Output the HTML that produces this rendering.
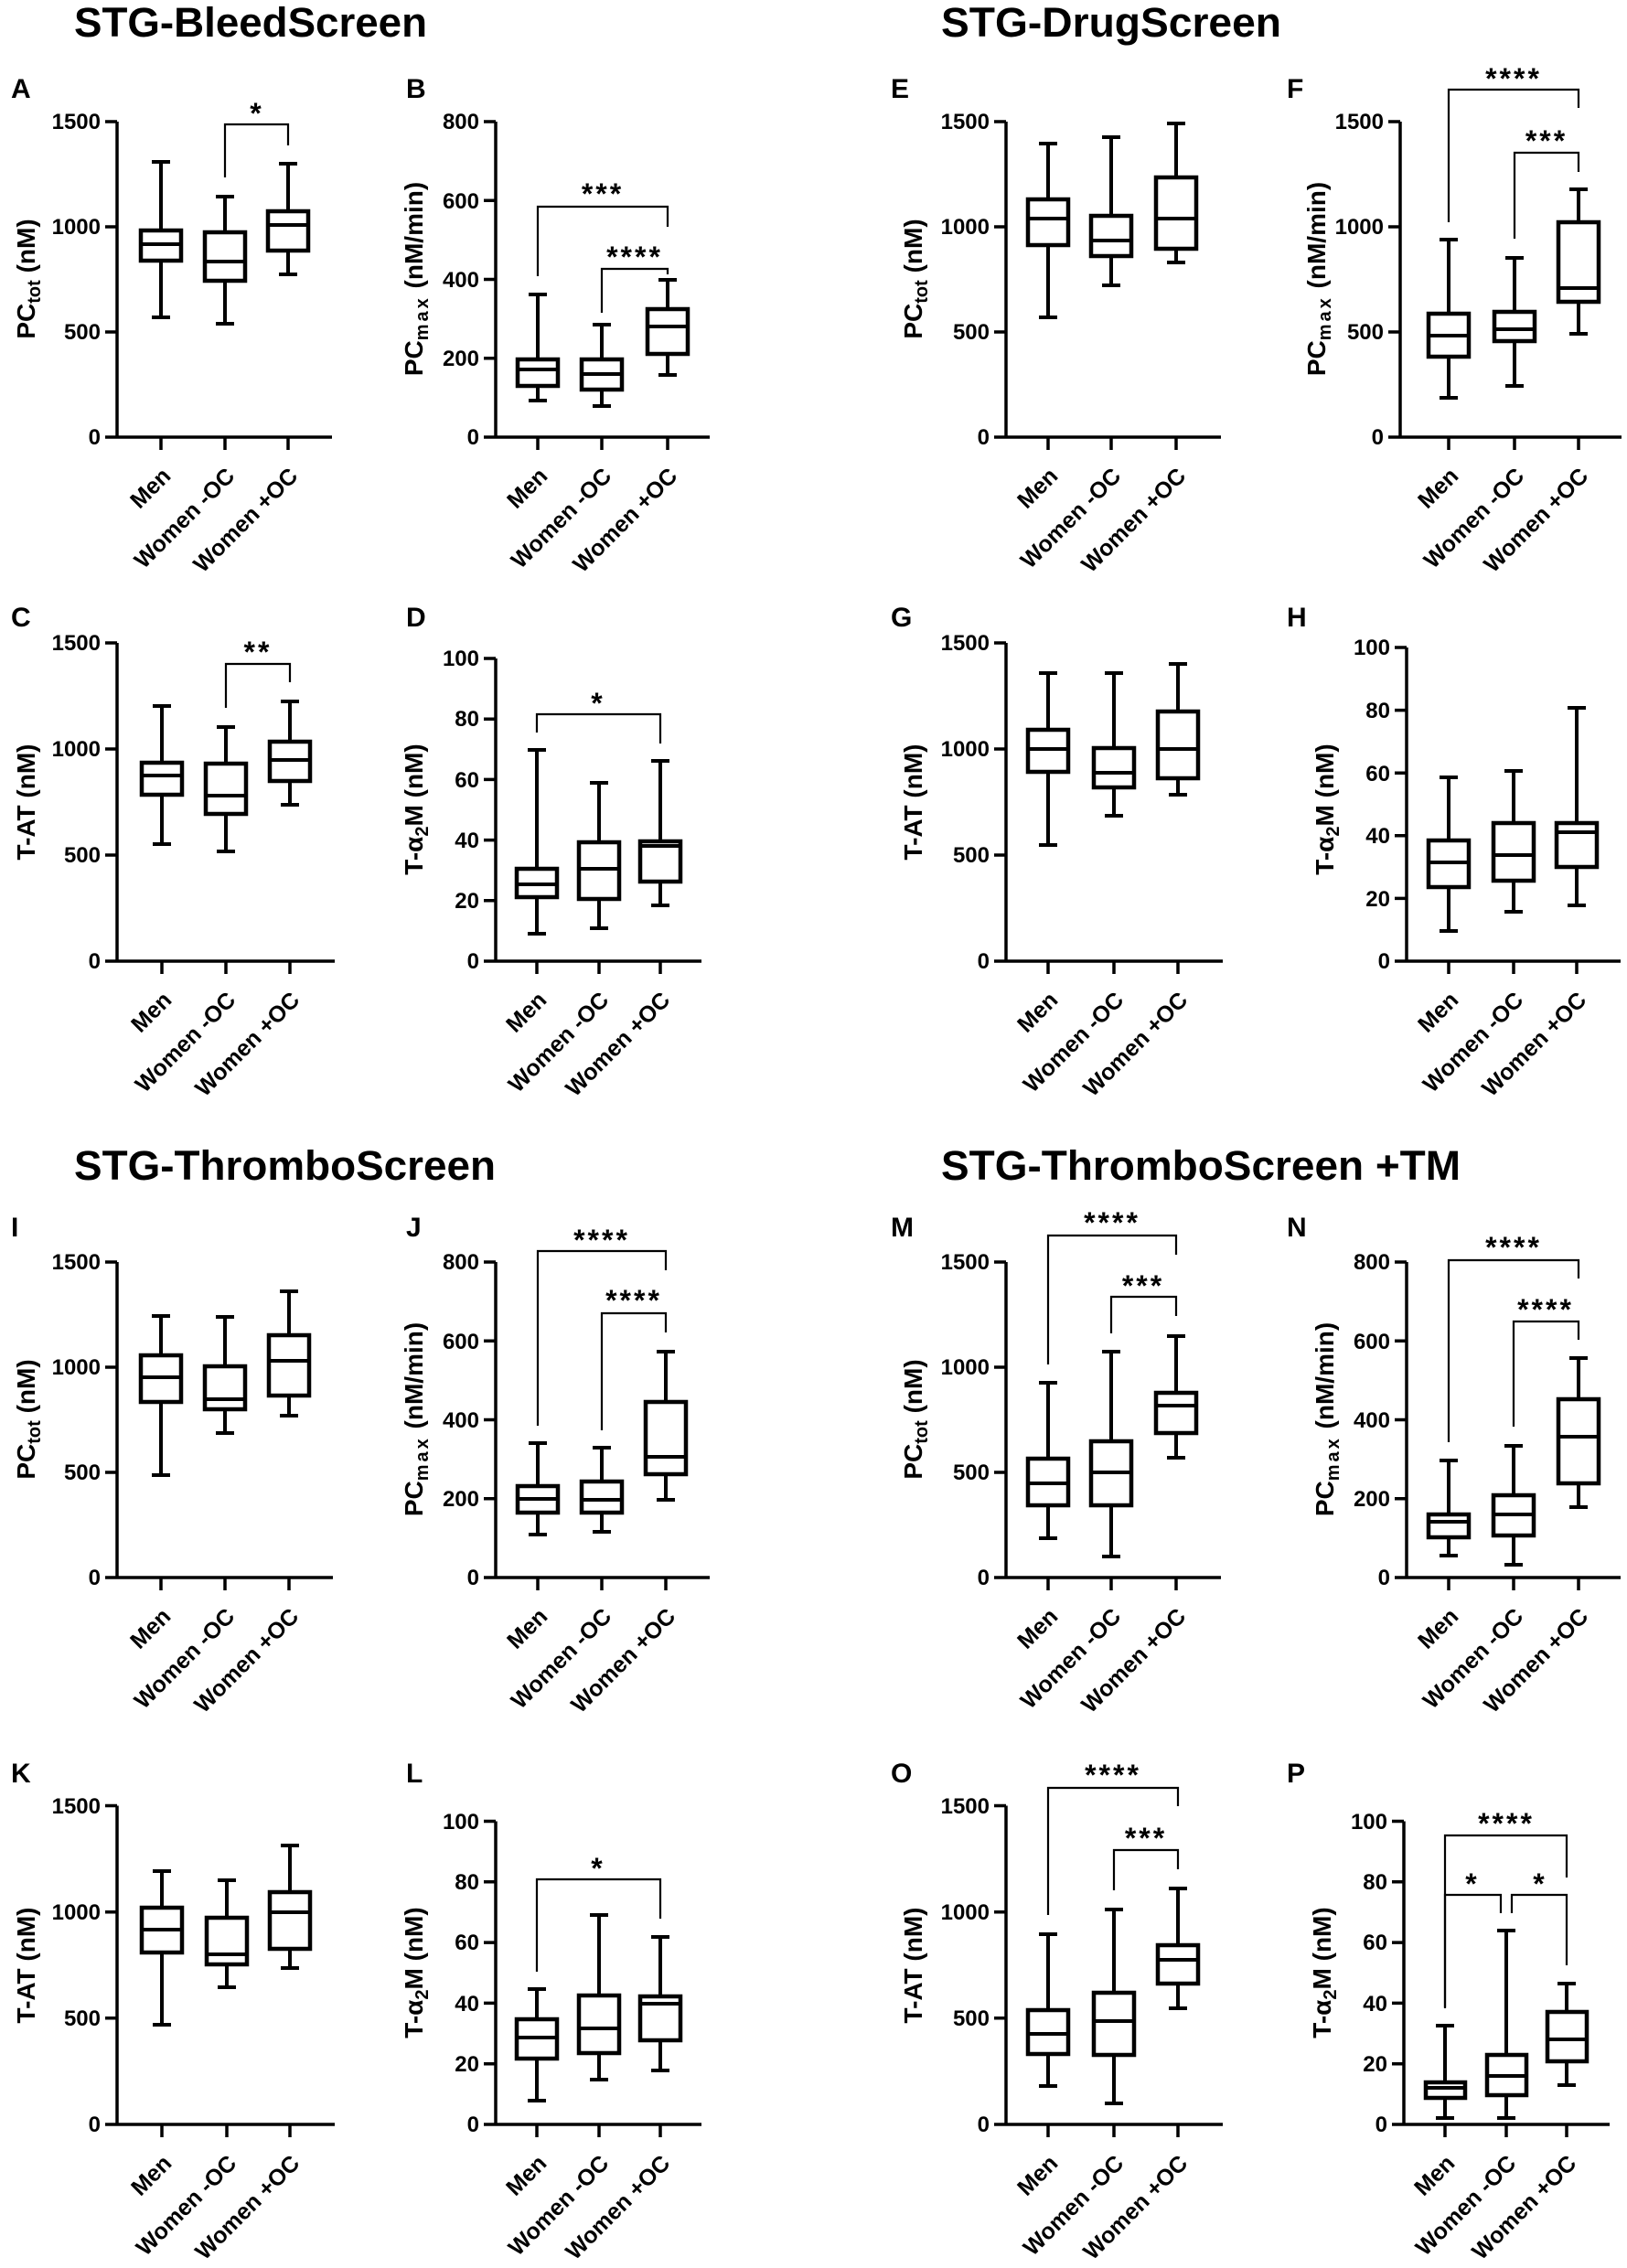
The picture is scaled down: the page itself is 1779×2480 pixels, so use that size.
<!DOCTYPE html>
<html><head><meta charset="utf-8"><style>
html,body{margin:0;padding:0;background:#fff}
svg{display:block}
text{font-family:"Liberation Sans",Arial,sans-serif;font-weight:bold;fill:#000}
.t{font-size:45px}
.L{font-size:30px}
.k{font-size:24px;text-anchor:end}
.c{font-size:25px;text-anchor:end}
.yl{font-size:28px;text-anchor:middle}
.s{font-size:32px;text-anchor:middle;letter-spacing:3px}
.ax{stroke:#000;stroke-width:3.5;fill:none}
.w{stroke:#000;stroke-width:4;fill:none}
.b{stroke:#000;stroke-width:4.5;fill:#fff}
.br{stroke:#000;stroke-width:2.2;fill:none}
</style></head><body>
<svg width="1779" height="2480" viewBox="0 0 1779 2480" xmlns="http://www.w3.org/2000/svg">
<rect width="1779" height="2480" fill="#fff"/>
<!-- Titles -->
<text class="t" x="81" y="40" textLength="386" lengthAdjust="spacingAndGlyphs">STG-BleedScreen</text>
<text class="t" x="1029" y="40" textLength="372" lengthAdjust="spacingAndGlyphs">STG-DrugScreen</text>
<text class="t" x="81" y="1290" textLength="461" lengthAdjust="spacingAndGlyphs">STG-ThromboScreen</text>
<text class="t" x="1029" y="1290" textLength="568" lengthAdjust="spacingAndGlyphs">STG-ThromboScreen +TM</text>
<!-- Letters -->
<text class="L" x="12" y="107">A</text><text class="L" x="444" y="107">B</text>
<text class="L" x="974" y="107">E</text><text class="L" x="1407" y="107">F</text>
<text class="L" x="12" y="685">C</text><text class="L" x="444" y="685">D</text>
<text class="L" x="974" y="685">G</text><text class="L" x="1407" y="685">H</text>
<text class="L" x="12" y="1352">I</text><text class="L" x="444" y="1352">J</text>
<text class="L" x="974" y="1352">M</text><text class="L" x="1407" y="1352">N</text>
<text class="L" x="12" y="1949">K</text><text class="L" x="444" y="1949">L</text>
<text class="L" x="974" y="1949">O</text><text class="L" x="1407" y="1949">P</text>

<!-- ============ A ============ -->
<path class="ax" d="M128 133V478H363M115 478h13M115 363h13M115 248h13M115 133h13M176 478v14M246 478v14M315 478v14"/>
<text class="k" x="110" y="486">0</text><text class="k" x="110" y="371">500</text><text class="k" x="110" y="256">1000</text><text class="k" x="110" y="141">1500</text>
<text class="yl" transform="translate(38,305) rotate(-90)">PC<tspan font-size="20" dy="6">tot</tspan><tspan dy="-6"> (nM)</tspan></text>
<path class="w" d="M176 177V347M166 177h20M166 347h20"/><rect class="b" x="154" y="252" width="44" height="33"/><path class="w" d="M154 267h44"/>
<path class="w" d="M246 215V354M236 215h20M236 354h20"/><rect class="b" x="224" y="254" width="44" height="53"/><path class="w" d="M224 286h44"/>
<path class="w" d="M315 179V300M305 179h20M305 300h20"/><rect class="b" x="293" y="231" width="44" height="43"/><path class="w" d="M293 246h44"/>
<path class="br" d="M246 194V136H315V159"/><text class="s" x="281" y="135">*</text>
<text class="c" transform="translate(188,522) rotate(-45)">Men</text><text class="c" transform="translate(258,522) rotate(-45)">Women -OC</text><text class="c" transform="translate(327,522) rotate(-45)">Women +OC</text>

<!-- ============ B ============ -->
<path class="ax" d="M542 133V478H776M529 478h13M529 391.75h13M529 305.5h13M529 219.25h13M529 133h13M588 478v14M658 478v14M730 478v14"/>
<text class="k" x="524" y="486">0</text><text class="k" x="524" y="400">200</text><text class="k" x="524" y="314">400</text><text class="k" x="524" y="228">600</text><text class="k" x="524" y="141">800</text>
<text class="yl" transform="translate(462,305) rotate(-90)">PC<tspan font-size="20" dy="6" letter-spacing="3">max</tspan><tspan dy="-6"> (nM/min)</tspan></text>
<path class="w" d="M588 322V438M578 322h20M578 438h20"/><rect class="b" x="566" y="393" width="44" height="29"/><path class="w" d="M566 404h44"/>
<path class="w" d="M658 355V444M648 355h20M648 444h20"/><rect class="b" x="636" y="393" width="44" height="33"/><path class="w" d="M636 409h44"/>
<path class="w" d="M730 306V410M720 306h20M720 410h20"/><rect class="b" x="708" y="338" width="44" height="49"/><path class="w" d="M708 357h44"/>
<path class="br" d="M588 302V226H730V248"/><text class="s" x="659" y="223">***</text>
<path class="br" d="M658 342V294H730V300"/><text class="s" x="694" y="292">****</text>
<text class="c" transform="translate(600,522) rotate(-45)">Men</text><text class="c" transform="translate(670,522) rotate(-45)">Women -OC</text><text class="c" transform="translate(742,522) rotate(-45)">Women +OC</text>

<!-- ============ E ============ -->
<path class="ax" d="M1100 133V478H1335M1087 478h13M1087 363h13M1087 248h13M1087 133h13M1146 478v14M1215 478v14M1286 478v14"/>
<text class="k" x="1082" y="486">0</text><text class="k" x="1082" y="371">500</text><text class="k" x="1082" y="256">1000</text><text class="k" x="1082" y="141">1500</text>
<text class="yl" transform="translate(1008,305) rotate(-90)">PC<tspan font-size="20" dy="6">tot</tspan><tspan dy="-6"> (nM)</tspan></text>
<path class="w" d="M1146 157V347M1136 157h20M1136 347h20"/><rect class="b" x="1124" y="218" width="44" height="50"/><path class="w" d="M1124 239h44"/>
<path class="w" d="M1215 150V312M1205 150h20M1205 312h20"/><rect class="b" x="1193" y="236" width="44" height="44"/><path class="w" d="M1193 263h44"/>
<path class="w" d="M1286 135V287M1276 135h20M1276 287h20"/><rect class="b" x="1264" y="194" width="44" height="78"/><path class="w" d="M1264 239h44"/>
<text class="c" transform="translate(1158,522) rotate(-45)">Men</text><text class="c" transform="translate(1227,522) rotate(-45)">Women -OC</text><text class="c" transform="translate(1298,522) rotate(-45)">Women +OC</text>

<!-- ============ F ============ -->
<path class="ax" d="M1531 133V478H1773M1518 478h13M1518 363h13M1518 248h13M1518 133h13M1584 478v14M1656 478v14M1726 478v14"/>
<text class="k" x="1513" y="486">0</text><text class="k" x="1513" y="371">500</text><text class="k" x="1513" y="256">1000</text><text class="k" x="1513" y="141">1500</text>
<text class="yl" transform="translate(1449,305) rotate(-90)">PC<tspan font-size="20" dy="6" letter-spacing="3">max</tspan><tspan dy="-6"> (nM/min)</tspan></text>
<path class="w" d="M1584 262V435M1574 262h20M1574 435h20"/><rect class="b" x="1562" y="343" width="44" height="47"/><path class="w" d="M1562 367h44"/>
<path class="w" d="M1656 282V422M1646 282h20M1646 422h20"/><rect class="b" x="1634" y="341" width="44" height="32"/><path class="w" d="M1634 360h44"/>
<path class="w" d="M1726 207V365M1716 207h20M1716 365h20"/><rect class="b" x="1704" y="243" width="44" height="87"/><path class="w" d="M1704 315h44"/>
<path class="br" d="M1584 243V98H1726V118"/><text class="s" x="1655" y="97">****</text>
<path class="br" d="M1656 261V167H1726V188"/><text class="s" x="1691" y="165">***</text>
<text class="c" transform="translate(1596,522) rotate(-45)">Men</text><text class="c" transform="translate(1668,522) rotate(-45)">Women -OC</text><text class="c" transform="translate(1738,522) rotate(-45)">Women +OC</text>

<!-- ============ C ============ -->
<path class="ax" d="M128 703V1051H366M115 1051h13M115 935h13M115 819h13M115 703h13M177 1051v14M247 1051v14M317 1051v14"/>
<text class="k" x="110" y="1059">0</text><text class="k" x="110" y="943">500</text><text class="k" x="110" y="827">1000</text><text class="k" x="110" y="711">1500</text>
<text class="yl" transform="translate(38,877) rotate(-90)">T-AT (nM)</text>
<path class="w" d="M177 772V923M167 772h20M167 923h20"/><rect class="b" x="155" y="834" width="44" height="35"/><path class="w" d="M155 848h44"/>
<path class="w" d="M247 795V931M237 795h20M237 931h20"/><rect class="b" x="225" y="835" width="44" height="55"/><path class="w" d="M225 870h44"/>
<path class="w" d="M317 767V880M307 767h20M307 880h20"/><rect class="b" x="295" y="811" width="44" height="43"/><path class="w" d="M295 831h44"/>
<path class="br" d="M247 774V726H317V746"/><text class="s" x="282" y="724">**</text>
<text class="c" transform="translate(189,1095) rotate(-45)">Men</text><text class="c" transform="translate(259,1095) rotate(-45)">Women -OC</text><text class="c" transform="translate(329,1095) rotate(-45)">Women +OC</text>

<!-- ============ D ============ -->
<path class="ax" d="M542 720V1051H767M529 1051h13M529 984.8h13M529 918.6h13M529 852.4h13M529 786.2h13M529 720h13M587 1051v14M655 1051v14M722 1051v14"/>
<text class="k" x="524" y="1059">0</text><text class="k" x="524" y="993">20</text><text class="k" x="524" y="927">40</text><text class="k" x="524" y="861">60</text><text class="k" x="524" y="794">80</text><text class="k" x="524" y="728">100</text>
<text class="yl" transform="translate(462,885) rotate(-90)">T-α<tspan font-size="20" dy="6">2</tspan><tspan dy="-6">M (nM)</tspan></text>
<path class="w" d="M587 820V1021M577 820h20M577 1021h20"/><rect class="b" x="565" y="950" width="44" height="31"/><path class="w" d="M565 967h44"/>
<path class="w" d="M655 856V1015M645 856h20M645 1015h20"/><rect class="b" x="633" y="921" width="44" height="62"/><path class="w" d="M633 950h44"/>
<path class="w" d="M722 832V990M712 832h20M712 990h20"/><rect class="b" x="700" y="920" width="44" height="44"/><path class="w" d="M700 925h44"/>
<path class="br" d="M587 801V781H722V813"/><text class="s" x="654" y="780">*</text>
<text class="c" transform="translate(599,1095) rotate(-45)">Men</text><text class="c" transform="translate(667,1095) rotate(-45)">Women -OC</text><text class="c" transform="translate(734,1095) rotate(-45)">Women +OC</text>

<!-- ============ G ============ -->
<path class="ax" d="M1100 703V1051H1337M1087 1051h13M1087 935h13M1087 819h13M1087 703h13M1146 1051v14M1218 1051v14M1288 1051v14"/>
<text class="k" x="1082" y="1059">0</text><text class="k" x="1082" y="943">500</text><text class="k" x="1082" y="827">1000</text><text class="k" x="1082" y="711">1500</text>
<text class="yl" transform="translate(1008,877) rotate(-90)">T-AT (nM)</text>
<path class="w" d="M1146 736V924M1136 736h20M1136 924h20"/><rect class="b" x="1124" y="798" width="44" height="46"/><path class="w" d="M1124 819h44"/>
<path class="w" d="M1218 736V892M1208 736h20M1208 892h20"/><rect class="b" x="1196" y="818" width="44" height="43"/><path class="w" d="M1196 845h44"/>
<path class="w" d="M1288 726V869M1278 726h20M1278 869h20"/><rect class="b" x="1266" y="778" width="44" height="73"/><path class="w" d="M1266 819h44"/>
<text class="c" transform="translate(1158,1095) rotate(-45)">Men</text><text class="c" transform="translate(1230,1095) rotate(-45)">Women -OC</text><text class="c" transform="translate(1300,1095) rotate(-45)">Women +OC</text>

<!-- ============ H ============ -->
<path class="ax" d="M1538 708V1051H1772M1525 1051h13M1525 982.4h13M1525 913.8h13M1525 845.2h13M1525 776.6h13M1525 708h13M1584 1051v14M1655 1051v14M1724 1051v14"/>
<text class="k" x="1520" y="1059">0</text><text class="k" x="1520" y="991">20</text><text class="k" x="1520" y="922">40</text><text class="k" x="1520" y="854">60</text><text class="k" x="1520" y="785">80</text><text class="k" x="1520" y="716">100</text>
<text class="yl" transform="translate(1458,885) rotate(-90)">T-α<tspan font-size="20" dy="6">2</tspan><tspan dy="-6">M (nM)</tspan></text>
<path class="w" d="M1584 850V1018M1574 850h20M1574 1018h20"/><rect class="b" x="1562" y="919" width="44" height="51"/><path class="w" d="M1562 943h44"/>
<path class="w" d="M1655 843V997M1645 843h20M1645 997h20"/><rect class="b" x="1633" y="900" width="44" height="63"/><path class="w" d="M1633 935h44"/>
<path class="w" d="M1724 774V990M1714 774h20M1714 990h20"/><rect class="b" x="1702" y="900" width="44" height="48"/><path class="w" d="M1702 910h44"/>
<text class="c" transform="translate(1596,1095) rotate(-45)">Men</text><text class="c" transform="translate(1667,1095) rotate(-45)">Women -OC</text><text class="c" transform="translate(1736,1095) rotate(-45)">Women +OC</text>

<!-- ============ I ============ -->
<path class="ax" d="M128 1380V1725H364M115 1725h13M115 1610h13M115 1495h13M115 1380h13M176 1725v14M246 1725v14M316 1725v14"/>
<text class="k" x="110" y="1733">0</text><text class="k" x="110" y="1618">500</text><text class="k" x="110" y="1503">1000</text><text class="k" x="110" y="1388">1500</text>
<text class="yl" transform="translate(38,1552) rotate(-90)">PC<tspan font-size="20" dy="6">tot</tspan><tspan dy="-6"> (nM)</tspan></text>
<path class="w" d="M176 1439V1613M166 1439h20M166 1613h20"/><rect class="b" x="154" y="1482" width="44" height="51"/><path class="w" d="M154 1506h44"/>
<path class="w" d="M246 1440V1567M236 1440h20M236 1567h20"/><rect class="b" x="224" y="1494" width="44" height="47"/><path class="w" d="M224 1530h44"/>
<path class="w" d="M316 1412V1548M306 1412h20M306 1548h20"/><rect class="b" x="294" y="1460" width="44" height="66"/><path class="w" d="M294 1488h44"/>
<text class="c" transform="translate(188,1769) rotate(-45)">Men</text><text class="c" transform="translate(258,1769) rotate(-45)">Women -OC</text><text class="c" transform="translate(328,1769) rotate(-45)">Women +OC</text>

<!-- ============ J ============ -->
<path class="ax" d="M542 1380V1725H776M529 1725h13M529 1638.75h13M529 1552.5h13M529 1466.25h13M529 1380h13M588 1725v14M658 1725v14M728 1725v14"/>
<text class="k" x="524" y="1733">0</text><text class="k" x="524" y="1647">200</text><text class="k" x="524" y="1561">400</text><text class="k" x="524" y="1475">600</text><text class="k" x="524" y="1388">800</text>
<text class="yl" transform="translate(462,1552) rotate(-90)">PC<tspan font-size="20" dy="6" letter-spacing="3">max</tspan><tspan dy="-6"> (nM/min)</tspan></text>
<path class="w" d="M588 1578V1678M578 1578h20M578 1678h20"/><rect class="b" x="566" y="1625" width="44" height="29"/><path class="w" d="M566 1639h44"/>
<path class="w" d="M658 1583V1675M648 1583h20M648 1675h20"/><rect class="b" x="636" y="1620" width="44" height="34"/><path class="w" d="M636 1640h44"/>
<path class="w" d="M728 1478V1640M718 1478h20M718 1640h20"/><rect class="b" x="706" y="1533" width="44" height="79"/><path class="w" d="M706 1593h44"/>
<path class="br" d="M588 1559V1368H728V1389"/><text class="s" x="658" y="1367">****</text>
<path class="br" d="M658 1564V1436H728V1457"/><text class="s" x="693" y="1433">****</text>
<text class="c" transform="translate(600,1769) rotate(-45)">Men</text><text class="c" transform="translate(670,1769) rotate(-45)">Women -OC</text><text class="c" transform="translate(740,1769) rotate(-45)">Women +OC</text>

<!-- ============ M ============ -->
<path class="ax" d="M1100 1380V1725H1335M1087 1725h13M1087 1610h13M1087 1495h13M1087 1380h13M1146 1725v14M1215 1725v14M1286 1725v14"/>
<text class="k" x="1082" y="1733">0</text><text class="k" x="1082" y="1618">500</text><text class="k" x="1082" y="1503">1000</text><text class="k" x="1082" y="1388">1500</text>
<text class="yl" transform="translate(1008,1552) rotate(-90)">PC<tspan font-size="20" dy="6">tot</tspan><tspan dy="-6"> (nM)</tspan></text>
<path class="w" d="M1146 1512V1682M1136 1512h20M1136 1682h20"/><rect class="b" x="1124" y="1595" width="44" height="51"/><path class="w" d="M1124 1622h44"/>
<path class="w" d="M1215 1478V1702M1205 1478h20M1205 1702h20"/><rect class="b" x="1193" y="1576" width="44" height="70"/><path class="w" d="M1193 1610h44"/>
<path class="w" d="M1286 1461V1594M1276 1461h20M1276 1594h20"/><rect class="b" x="1264" y="1523" width="44" height="44"/><path class="w" d="M1264 1537h44"/>
<path class="br" d="M1146 1492V1351H1286V1372"/><text class="s" x="1216" y="1348">****</text>
<path class="br" d="M1215 1458V1418H1286V1439"/><text class="s" x="1250" y="1417">***</text>
<text class="c" transform="translate(1158,1769) rotate(-45)">Men</text><text class="c" transform="translate(1227,1769) rotate(-45)">Women -OC</text><text class="c" transform="translate(1298,1769) rotate(-45)">Women +OC</text>

<!-- ============ N ============ -->
<path class="ax" d="M1538 1380V1725H1772M1525 1725h13M1525 1638.75h13M1525 1552.5h13M1525 1466.25h13M1525 1380h13M1584 1725v14M1655 1725v14M1726 1725v14"/>
<text class="k" x="1520" y="1733">0</text><text class="k" x="1520" y="1647">200</text><text class="k" x="1520" y="1561">400</text><text class="k" x="1520" y="1475">600</text><text class="k" x="1520" y="1388">800</text>
<text class="yl" transform="translate(1458,1552) rotate(-90)">PC<tspan font-size="20" dy="6" letter-spacing="3">max</tspan><tspan dy="-6"> (nM/min)</tspan></text>
<path class="w" d="M1584 1597V1701M1574 1597h20M1574 1701h20"/><rect class="b" x="1562" y="1656" width="44" height="25"/><path class="w" d="M1562 1664h44"/>
<path class="w" d="M1655 1581V1711M1645 1581h20M1645 1711h20"/><rect class="b" x="1633" y="1635" width="44" height="44"/><path class="w" d="M1633 1656h44"/>
<path class="w" d="M1726 1485V1648M1716 1485h20M1716 1648h20"/><rect class="b" x="1704" y="1530" width="44" height="92"/><path class="w" d="M1704 1571h44"/>
<path class="br" d="M1584 1577V1378H1726V1398"/><text class="s" x="1655" y="1375">****</text>
<path class="br" d="M1655 1560V1445H1726V1465"/><text class="s" x="1690" y="1443">****</text>
<text class="c" transform="translate(1596,1769) rotate(-45)">Men</text><text class="c" transform="translate(1667,1769) rotate(-45)">Women -OC</text><text class="c" transform="translate(1738,1769) rotate(-45)">Women +OC</text>

<!-- ============ K ============ -->
<path class="ax" d="M128 1974.5V2323H366M115 2323h13M115 2206.8h13M115 2090.7h13M115 1974.5h13M177 2323v14M248 2323v14M317 2323v14"/>
<text class="k" x="110" y="2331">0</text><text class="k" x="110" y="2215">500</text><text class="k" x="110" y="2099">1000</text><text class="k" x="110" y="1983">1500</text>
<text class="yl" transform="translate(38,2149) rotate(-90)">T-AT (nM)</text>
<path class="w" d="M177 2046V2214M167 2046h20M167 2214h20"/><rect class="b" x="155" y="2086" width="44" height="49"/><path class="w" d="M155 2110h44"/>
<path class="w" d="M248 2056V2173M238 2056h20M238 2173h20"/><rect class="b" x="226" y="2097" width="44" height="51"/><path class="w" d="M226 2137h44"/>
<path class="w" d="M317 2018V2152M307 2018h20M307 2152h20"/><rect class="b" x="295" y="2069" width="44" height="62"/><path class="w" d="M295 2091h44"/>
<text class="c" transform="translate(189,2367) rotate(-45)">Men</text><text class="c" transform="translate(260,2367) rotate(-45)">Women -OC</text><text class="c" transform="translate(329,2367) rotate(-45)">Women +OC</text>

<!-- ============ L ============ -->
<path class="ax" d="M542 1991.5V2323H767M529 2323h13M529 2256.7h13M529 2190.4h13M529 2124.1h13M529 2057.8h13M529 1991.5h13M587 2323v14M655 2323v14M722 2323v14"/>
<text class="k" x="524" y="2331">0</text><text class="k" x="524" y="2265">20</text><text class="k" x="524" y="2199">40</text><text class="k" x="524" y="2132">60</text><text class="k" x="524" y="2066">80</text><text class="k" x="524" y="2000">100</text>
<text class="yl" transform="translate(462,2157) rotate(-90)">T-α<tspan font-size="20" dy="6">2</tspan><tspan dy="-6">M (nM)</tspan></text>
<path class="w" d="M587 2175V2297M577 2175h20M577 2297h20"/><rect class="b" x="565" y="2208" width="44" height="43"/><path class="w" d="M565 2228h44"/>
<path class="w" d="M655 2094V2274M645 2094h20M645 2274h20"/><rect class="b" x="633" y="2182" width="44" height="63"/><path class="w" d="M633 2218h44"/>
<path class="w" d="M722 2118V2264M712 2118h20M712 2264h20"/><rect class="b" x="700" y="2183" width="44" height="48"/><path class="w" d="M700 2191h44"/>
<path class="br" d="M587 2156V2055H722V2098"/><text class="s" x="654" y="2054">*</text>
<text class="c" transform="translate(599,2367) rotate(-45)">Men</text><text class="c" transform="translate(667,2367) rotate(-45)">Women -OC</text><text class="c" transform="translate(734,2367) rotate(-45)">Women +OC</text>

<!-- ============ O ============ -->
<path class="ax" d="M1100 1974.5V2323H1337M1087 2323h13M1087 2206.8h13M1087 2090.7h13M1087 1974.5h13M1146 2323v14M1218 2323v14M1288 2323v14"/>
<text class="k" x="1082" y="2331">0</text><text class="k" x="1082" y="2215">500</text><text class="k" x="1082" y="2099">1000</text><text class="k" x="1082" y="1983">1500</text>
<text class="yl" transform="translate(1008,2149) rotate(-90)">T-AT (nM)</text>
<path class="w" d="M1146 2115V2281M1136 2115h20M1136 2281h20"/><rect class="b" x="1124" y="2198" width="44" height="48"/><path class="w" d="M1124 2224h44"/>
<path class="w" d="M1218 2088V2300M1208 2088h20M1208 2300h20"/><rect class="b" x="1196" y="2179" width="44" height="68"/><path class="w" d="M1196 2210h44"/>
<path class="w" d="M1288 2065V2196M1278 2065h20M1278 2196h20"/><rect class="b" x="1266" y="2127" width="44" height="42"/><path class="w" d="M1266 2143h44"/>
<path class="br" d="M1146 2094V1955H1288V1975"/><text class="s" x="1217" y="1952">****</text>
<path class="br" d="M1218 2067V2023H1288V2044"/><text class="s" x="1253" y="2021">***</text>
<text class="c" transform="translate(1158,2367) rotate(-45)">Men</text><text class="c" transform="translate(1230,2367) rotate(-45)">Women -OC</text><text class="c" transform="translate(1300,2367) rotate(-45)">Women +OC</text>

<!-- ============ P ============ -->
<path class="ax" d="M1535 1991.5V2323H1760M1522 2323h13M1522 2256.7h13M1522 2190.4h13M1522 2124.1h13M1522 2057.8h13M1522 1991.5h13M1580 2323v14M1647 2323v14M1713 2323v14"/>
<text class="k" x="1517" y="2331">0</text><text class="k" x="1517" y="2265">20</text><text class="k" x="1517" y="2199">40</text><text class="k" x="1517" y="2132">60</text><text class="k" x="1517" y="2066">80</text><text class="k" x="1517" y="2000">100</text>
<text class="yl" transform="translate(1455,2157) rotate(-90)">T-α<tspan font-size="20" dy="6">2</tspan><tspan dy="-6">M (nM)</tspan></text>
<path class="w" d="M1580 2215V2316M1570 2215h20M1570 2316h20"/><rect class="b" x="1559" y="2277" width="43" height="17"/><path class="w" d="M1559 2283h43"/>
<path class="w" d="M1647 2111V2316M1637 2111h20M1637 2316h20"/><rect class="b" x="1626" y="2247" width="43" height="44"/><path class="w" d="M1626 2270h43"/>
<path class="w" d="M1713 2169V2280M1703 2169h20M1703 2280h20"/><rect class="b" x="1692" y="2200" width="43" height="54"/><path class="w" d="M1692 2230h43"/>
<path class="br" d="M1580 2196V2007H1713V2053"/><text class="s" x="1647" y="2005">****</text>
<path class="br" d="M1580 2195V2072H1641V2092"/><text class="s" x="1610" y="2071">*</text>
<path class="br" d="M1653 2092V2072H1713V2149"/><text class="s" x="1684" y="2071">*</text>
<text class="c" transform="translate(1592,2367) rotate(-45)">Men</text><text class="c" transform="translate(1659,2367) rotate(-45)">Women -OC</text><text class="c" transform="translate(1725,2367) rotate(-45)">Women +OC</text>
</svg>
</body></html>
